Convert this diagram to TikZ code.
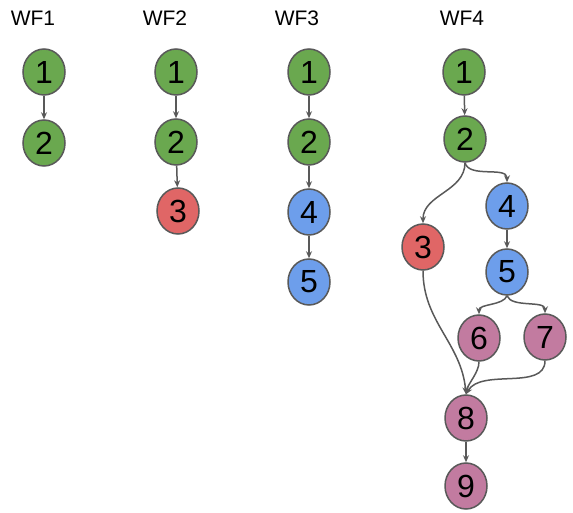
\documentclass[tikz,border=0pt]{standalone}
\usepackage{fontspec}
\setmainfont{Liberation Sans}
\usetikzlibrary{arrows.meta,shapes.geometric}
\definecolor{wfgreen}{HTML}{6AA84F}
\definecolor{wfred}{HTML}{E06666}
\definecolor{wfblue}{HTML}{6D9EEB}
\definecolor{wfpurple}{HTML}{C27BA0}
\definecolor{wfline}{HTML}{595959}
\tikzset{
  task/.style={ellipse, draw=wfline, line width=1.5pt, minimum width=42pt, minimum height=46pt, inner sep=0pt, font=\fontsize{32}{32}\selectfont},
  wflabel/.style={font=\fontsize{21}{21}\selectfont},
  dep/.style={draw=wfline, line width=1.5pt, -{Stealth[length=7pt,width=6pt]}}
}
\begin{document}
\begin{tikzpicture}[x=1pt,y=-1pt]
			%%%%% START %%%%%
			\useasboundingbox (0,0) rectangle (573,513);
			
			\node[wflabel] (wfa) at (33, 18) {WF1};
			\node[wflabel] (wfb) at (165, 18) {WF2};
			\node[wflabel] (wfc) at (297, 18) {WF3};
			\node[wflabel] (wfd) at (462, 18) {WF4};
			
			%%%%% WF1
			\node[task, fill=wfgreen] (aone) at (44, 72) {1};
			\node[task, fill=wfgreen] (atwo) at (44, 143) {2};
			\draw[dep] (aone) -- (atwo);
			
			%%%%% WF2
			\node[task, fill=wfgreen] (bone) at (176, 72) {1};
			\node[task, fill=wfgreen] (btwo) at (176, 142) {2};
			\node[task, fill=wfred] (bthree) at (178, 211) {3};
			\draw[dep] (bone) -- (btwo);
			\draw[dep] (btwo) -- (bthree);
			
			%%%%% WF3
			\node[task, fill=wfgreen] (cone) at (309, 72) {1};
			\node[task, fill=wfgreen] (ctwo) at (309, 142) {2};
			\node[task, fill=wfblue] (cfour) at (309, 212) {4};
			\node[task, fill=wfblue] (cfive) at (309, 282) {5};
			\draw[dep] (cone) -- (ctwo);
			\draw[dep] (ctwo) -- (cfour);
			\draw[dep] (cfour) -- (cfive);
			
			%%%%% WF4
			\node[task, fill=wfgreen] (done) at (464, 72) {1};
			\node[task, fill=wfgreen] (dtwo) at (465, 139) {2};
			\node[task, fill=wfblue] (dfour) at (507, 206) {4};
			\node[task, fill=wfred] (dthree) at (423, 247) {3};
			\node[task, fill=wfblue] (dfive) at (507, 272) {5};
			\node[task, fill=wfpurple] (dsix) at (479, 338) {6};
			\node[task, fill=wfpurple] (dseven) at (545, 337) {7};
			\node[task, fill=wfpurple] (deight) at (466, 418) {8};
			\node[task, fill=wfpurple] (dnine) at (466, 486) {9};
			
			\draw[dep] (done) -- (dtwo);
			\draw[dep] (dtwo.south) to[out=-90, in=90] (dthree.north);
			\draw[dep] (dtwo.south) to[out=-75, in=90, looseness=0.9] (dfour.north);
			\draw[dep] (dfour) -- (dfive);
			\draw[dep] (dfive.south) to[out=-110, in=90, looseness=0.8] (dsix.north);
			\draw[dep] (dfive.south) to[out=-70, in=90, looseness=0.8] (dseven.north);
			\draw[dep] (dthree.south) to[out=-90, in=95] (deight.north);
			\draw[dep] (dsix.south) to[out=-90, in=80, looseness=0.8] (deight.north);
			\draw[dep] (dseven.south) to[out=-90, in=60, looseness=0.9] (deight.north);
			\draw[dep] (deight) -- (dnine);
			%%%%% END %%%%%
\end{tikzpicture}
\end{document}
